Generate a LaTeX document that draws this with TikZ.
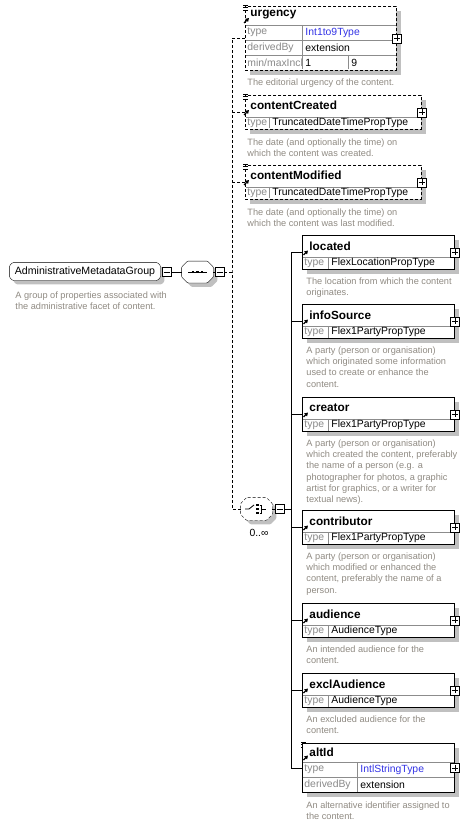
\documentclass[tikz,border=0pt]{standalone}
\usepackage{fontspec}
\setmainfont{Liberation Sans}
\usetikzlibrary{arrows.meta, shadows, backgrounds}
\definecolor{cshade}{HTML}{C0C0C0}
\definecolor{ckey}{HTML}{8A8A8A}
\definecolor{crule}{HTML}{8C8C8C}
\definecolor{cdesc}{HTML}{8F8A82}
\definecolor{ctype}{HTML}{3434E6}
\tikzset{
  every picture/.style={font=\fontsize{10.4}{12}\selectfont, line width=0.9pt},
  shadowed/.style={drop shadow={shadow xshift=#1, shadow yshift=-#1, fill=cshade, opacity=1}},
  shadowed/.default=5pt,
  elem/.style={draw, fill=white, anchor=north west, inner sep=0pt, shadowed},
  optional/.style={dash pattern=on 3pt off 2pt},
  hub/.style={rectangle, inner sep=0pt, minimum width=31pt, minimum height=21pt},
  groupbox/.style={rectangle, inner sep=0pt, minimum width=150pt, minimum height=17pt, font=\fontsize{10.6}{12}\selectfont},
  rowline/.style={draw=crule, line width=0.7pt},
  ename/.style={anchor=west, inner sep=0pt, font=\bfseries\fontsize{11.8}{14}\selectfont},
  key/.style={anchor=west, inner sep=0pt, text=ckey},
  val/.style={anchor=west, inner sep=0pt},
  desc/.style={anchor=north west, inner sep=0pt, align=left, text=cdesc, font=\fontsize{9.2}{11.3}\selectfont},
  minusbox/.style={draw, fill=white, inner sep=0pt, minimum size=9pt, line width=0.7pt,
    path picture={\draw ([xshift=1.5pt]path picture bounding box.west) -- ([xshift=-1.5pt]path picture bounding box.east);}},
  plusbox/.style={draw, fill=white, inner sep=0pt, minimum size=9pt, line width=0.7pt,
    path picture={\draw ([xshift=1.5pt]path picture bounding box.west) -- ([xshift=-1.5pt]path picture bounding box.east)
      ([yshift=-1.5pt]path picture bounding box.north) -- ([yshift=1.5pt]path picture bounding box.south);}},
  refarrow/.style={-{Triangle[length=3.5pt, width=4pt]}, line width=1.1pt},
  attrs/.style={line width=0.8pt},
}

\begin{document}
\begin{tikzpicture}[x=1pt, y=-1pt]
  \useasboundingbox (0,0) rectangle (470,826);

  % group and its sequence
  \node[groupbox] (root) at (85,271.5) {AdministrativeMetadataGroup};
  \node[minusbox] (root-mb) at (166.5,272) {};
  \node[desc] (root-txt) at (15,291) {A group of properties associated with\\the administrative facet of content.};
  \node[hub] (seq) at (197.5,272) {};
  \node[minusbox] (seq-mb) at (219.5,272) {};
  \draw (root-mb.east) -- (seq.west);
  \draw (seq.east) -- (seq-mb.west);
  \draw[line width=0.8pt] (188,272) -- (207,272);
  \foreach \dx in {193,197.5,202} \fill (\dx-1.3,270.7) rectangle (\dx+1.3,273.3);

  % optional elements
  \node[elem, optional, minimum width=151pt, minimum height=64pt] (urgency) at (245,6) {};
  \draw[rowline] (245.5,25) -- (395.5,25) (245.5,40) -- (395.5,40) (245.5,55) -- (395.5,55)
    (302,25) -- (302,69.5) (348,55) -- (348,69.5);
  \node[ename] at (250,15) {urgency};
  \node[key] at (247,32.5) {type};
  \node[val, text=ctype] at (305,32.5) {Int1to9Type};
  \node[key] at (247,47.5) {derivedBy};
  \node[val] at (305,47.5) {extension};
  \node[key] at (247,62.5) {min/maxIncl};
  \node[val] at (305,62.5) {1};
  \node[val] at (351,62.5) {9};
  \node[plusbox] (urgency-pb) at (urgency.east) {};
  \node[desc] (urgency-txt) at (247,78) {The editorial urgency of the content.};

  \node[elem, optional, minimum width=176pt, minimum height=34pt] (contentCreated) at (245,95) {};
  \draw[rowline] (245.5,117) -- (420.5,117) (269,117) -- (269,128.5);
  \node[ename] at (250,105) {contentCreated};
  \node[key] at (247,123) {type};
  \node[val] at (272,123) {TruncatedDateTimePropType};
  \node[plusbox] (contentCreated-pb) at (contentCreated.east) {};
  \node[desc] (contentCreated-txt) at (247,138) {The date (and optionally the time) on\\which the content was created.};

  \node[elem, optional, minimum width=176pt, minimum height=34pt] (contentModified) at (245,165) {};
  \draw[rowline] (245.5,187) -- (420.5,187) (269,187) -- (269,198.5);
  \node[ename] at (250,175) {contentModified};
  \node[key] at (247,193) {type};
  \node[val] at (272,193) {TruncatedDateTimePropType};
  \node[plusbox] (contentModified-pb) at (contentModified.east) {};
  \node[desc] (contentModified-txt) at (247,208) {The date (and optionally the time) on\\which the content was last modified.};

  \foreach \ex/\ey in {245/6,245/95,245/165,303/743}
    \draw[attrs] (\ex-2,\ey-1) -- (\ex+3,\ey-1) (\ex-2,\ey+1.5) -- (\ex+3,\ey+1.5) (\ex-2,\ey+4) -- (\ex+3,\ey+4);
  \foreach \ex/\ey in {245/25,245/117,245/187}
    \draw[refarrow] (\ex-1,\ey-2) -- (\ex+4,\ey-7);

  % choice
  \node[hub, minimum height=22pt] (cho) at (256.5,509) {};
  \node[minusbox] (cho-mb) at (280,509) {};
  \node[val, anchor=center] (cho-occ) at (259,533) {0..∞};
  \draw (cho.east) -- (cho-mb.west);
  \draw[line width=0.8pt] (245,509) -- (249,509) -- (254,505);
  \foreach \dy in {505,509,513} \fill (256,\dy-1.2) rectangle (258.5,\dy+1.2);
  \draw[line width=0.8pt] (259.5,505) -- (261,505) -- (261,513) -- (259.5,513) (261,509) -- (266,509);

  \begin{scope}[on background layer]
    \foreach \n/\c in {root/3, seq/6}
      \draw[fill=white, shadowed=4pt, rounded corners=1pt] ([xshift=\c pt]\n.north west) -- ([xshift=-\c pt]\n.north east)
        -- ([yshift=-\c pt]\n.north east) -- ([yshift=\c pt]\n.south east) -- ([xshift=-\c pt]\n.south east)
        -- ([xshift=\c pt]\n.south west) -- ([yshift=\c pt]\n.south west) -- ([yshift=-\c pt]\n.north west) -- cycle;
    \draw[optional, fill=white, shadowed=4pt, rounded corners=1pt] ([xshift=6pt]cho.north west) -- ([xshift=-6pt]cho.north east)
      -- ([yshift=-6pt]cho.north east) -- ([yshift=6pt]cho.south east) -- ([xshift=-6pt]cho.south east)
      -- ([xshift=6pt]cho.south west) -- ([yshift=6pt]cho.south west) -- ([yshift=-6pt]cho.north west) -- cycle;
  \end{scope}

  \coordinate (trunk) at (232,272);
  \draw[optional] (seq-mb.east) -- (trunk);
  \draw[optional] (urgency.west) -| (trunk) |- (cho.west);
  \draw[optional] (trunk |- contentCreated.west) -- (contentCreated.west);
  \draw[optional] (trunk |- contentModified.west) -- (contentModified.west);

  % choice members
  \coordinate (bus) at (291,509);
  \draw (cho-mb.east) -- (bus);
  \foreach \nm/\ty/\tp/\desc in {
    located/235/FlexLocationPropType/{The location from which the content\\originates.},
    infoSource/304/Flex1PartyPropType/{A party (person or organisation)\\which originated some information\\used to create or enhance the\\content.},
    creator/397/Flex1PartyPropType/{A party (person or organisation)\\which created the content, preferably\\the name of a person (e.g. a\\photographer for photos, a graphic\\artist for graphics, or a writer for\\textual news).},
    contributor/510/Flex1PartyPropType/{A party (person or organisation)\\which modified or enhanced the\\content, preferably the name of a\\person.},
    audience/603/AudienceType/{An intended audience for the\\content.},
    exclAudience/673/AudienceType/{An excluded audience for the\\content.}} {
    \node[elem, minimum width=152pt, minimum height=34pt] (\nm) at (302,\ty) {};
    \draw[rowline] (302.5,{\ty+22}) -- (453.5,{\ty+22}) (328,{\ty+22}) -- (328,{\ty+33.5});
    \node[ename] at (309,{\ty+11}) {\nm};
    \draw[refarrow] (303.5,{\ty+20}) -- (308,{\ty+15.5});
    \node[key] at (304,{\ty+28}) {type};
    \node[val] at (331,{\ty+28}) {\tp};
    \node[plusbox] (\nm-pb) at (\nm.east) {};
    \draw (bus |- \nm.west) -- (\nm.west);
    \node[desc] (\nm-txt) at (306,{\ty+42}) {\desc};
  }

  \node[elem, minimum width=152pt, minimum height=49pt] (altId) at (302,743) {};
  \draw[rowline] (302.5,762) -- (453.5,762) (302.5,777) -- (453.5,777) (357,762) -- (357,791.5);
  \node[ename] at (309,752) {altId};
  \draw[refarrow] (303.5,760) -- (308,755.5);
  \node[key] at (304,769.5) {type};
  \node[val, text=ctype] at (360,769.5) {IntlStringType};
  \node[key] at (304,784.5) {derivedBy};
  \node[val] at (360,784.5) {extension};
  \node[plusbox] (altId-pb) at (altId.east) {};
  \draw (bus |- altId.west) -- (altId.west);
  \node[desc] (altId-txt) at (306,801) {An alternative identifier assigned to\\the content.};

  \draw (bus |- located.west) -- (bus |- altId.west);
\end{tikzpicture}
\end{document}
